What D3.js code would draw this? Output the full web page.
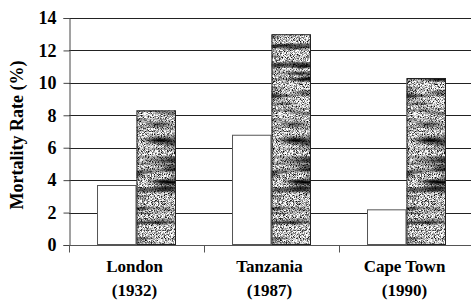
<!DOCTYPE html>
<html><head><meta charset="utf-8">
<script src="https://cdn.jsdelivr.net/npm/d3@7"></script>
<style>body{margin:0;background:#fff}</style>
</head><body>
<script>
const categories = ["London", "Tanzania", "Cape Town"];
const years = ["(1932)", "(1987)", "(1990)"];
const seriesKeys = ["light", "dark"];
const lightValues = [3.7, 6.8, 2.2];
const darkValues = [8.3, 13.0, 10.3];
const yTicks = [0, 2, 4, 6, 8, 10, 12, 14];

(function () {
const W = 471, H = 304;
const svg = d3.select("body").append("svg").attr("width", W).attr("height", H);
const defs = svg.append("defs");
const f = defs.append("filter").attr("id", "grain")
  .attr("x", 0).attr("y", 0).attr("width", 1).attr("height", 1)
  .attr("filterUnits", "objectBoundingBox").attr("color-interpolation-filters", "sRGB");
f.append("feTurbulence").attr("type", "fractalNoise").attr("baseFrequency", "1.3")
  .attr("numOctaves", 1).attr("seed", 4).attr("result", "fine");
f.append("feColorMatrix").attr("in", "fine").attr("type", "matrix")
  .attr("values", "3 0 0 0 -0.75  3 0 0 0 -0.75  3 0 0 0 -0.75  0 0 0 0 1").attr("result", "fineG");
f.append("feTurbulence").attr("type", "fractalNoise").attr("baseFrequency", "0.02 0.16")
  .attr("numOctaves", 2).attr("seed", 9).attr("result", "band");
f.append("feColorMatrix").attr("in", "band").attr("type", "matrix")
  .attr("values", "2.6 0 0 0 -0.4  2.6 0 0 0 -0.4  2.6 0 0 0 -0.4  0 0 0 0 1").attr("result", "bandG");
f.append("feBlend").attr("in", "fineG").attr("in2", "bandG").attr("mode", "multiply").attr("result", "mix");
f.append("feComposite").attr("in", "mix").attr("in2", "SourceAlpha").attr("operator", "in");

const mLeft = 69, mRight = 474, mTop = 18, mBottom = 245;
const y = d3.scaleLinear().domain([0, 14]).range([mBottom, mTop]);
const x0 = d3.scaleBand().domain(categories).range([mLeft, mRight]).paddingInner(0.415).paddingOuter(0.2075);
const x1 = d3.scaleBand().domain(seriesKeys).range([0, x0.bandwidth()]);
const xb = d3.scaleBand().domain(categories).range([mLeft, mRight]);

svg.append("g").selectAll("line").data(yTicks.filter(d => d > 0)).join("line")
  .attr("x1", mLeft).attr("x2", W).attr("y1", d => Math.round(y(d)) + 0.5).attr("y2", d => Math.round(y(d)) + 0.5)
  .attr("stroke", "#222").attr("stroke-width", 1);

const ya = svg.append("g").attr("transform", `translate(${mLeft + 0.5},0)`)
  .call(d3.axisLeft(y).tickValues(yTicks).tickSize(6).tickPadding(7).tickFormat(d3.format("d")));
ya.attr("font-family", "serif").attr("font-size", 18).attr("font-weight", "bold");
ya.select(".domain").attr("stroke", "#444");
ya.selectAll(".tick line").attr("stroke", "#444");
ya.selectAll("text").attr("fill", "#000");

const rows = categories.map((c, i) => ({ c, vals: [{ k: "light", v: lightValues[i] }, { k: "dark", v: darkValues[i] }] }));
const g = svg.append("g").selectAll("g").data(rows).join("g")
  .attr("transform", d => `translate(${x0(d.c)},0)`);
g.selectAll("rect.fill").data(d => d.vals).join("rect").attr("class", "fill")
  .attr("x", d => x1(d.k)).attr("width", x1.bandwidth())
  .attr("y", d => y(d.v)).attr("height", d => y(0) - y(d.v))
  .attr("fill", d => d.k === "light" ? "#fff" : "#000")
  .attr("filter", d => d.k === "dark" ? "url(#grain)" : null);
g.selectAll("rect.out").data(d => d.vals).join("rect").attr("class", "out")
  .attr("x", d => x1(d.k) + 0.5).attr("width", x1.bandwidth() - 1)
  .attr("y", d => y(d.v) + 0.5).attr("height", d => y(0) - y(d.v) - 1)
  .attr("fill", "none").attr("stroke", d => d.k === "light" ? "#555" : "#222").attr("stroke-width", 1);

const xa = svg.append("g").attr("transform", `translate(0,${mBottom + 0.5})`);
xa.append("line").attr("x1", mLeft).attr("x2", W).attr("stroke", "#555");
xa.selectAll("line.tk").data(categories).join("line").attr("class", "tk")
  .attr("x1", d => xb(d) + 0.5).attr("x2", d => xb(d) + 0.5).attr("y1", 0).attr("y2", 7).attr("stroke", "#555");

const cx = d => x0(d) + x0.bandwidth() / 2 - 2;
svg.selectAll("text.n").data(categories).join("text").attr("class", "n")
  .attr("x", cx).attr("y", 272).attr("text-anchor", "middle")
  .attr("font-family", "Times New Roman").attr("font-weight", "bold").attr("font-size", 17)
  .text(d => d);
svg.selectAll("text.yr").data(years).join("text").attr("class", "yr")
  .attr("x", (d, i) => cx(categories[i])).attr("y", 296).attr("text-anchor", "middle")
  .attr("font-family", "Liberation Serif").attr("font-weight", "bold").attr("font-size", 17)
  .text(d => d);

svg.append("text").attr("x", 0).attr("y", 0)
  .attr("transform", "translate(23,135) rotate(-90)")
  .attr("text-anchor", "middle")
  .attr("font-family", "serif").attr("font-weight", "bold").attr("font-size", 18)
  .text("Mortality Rate (%)");
})();
</script>
</body></html>
